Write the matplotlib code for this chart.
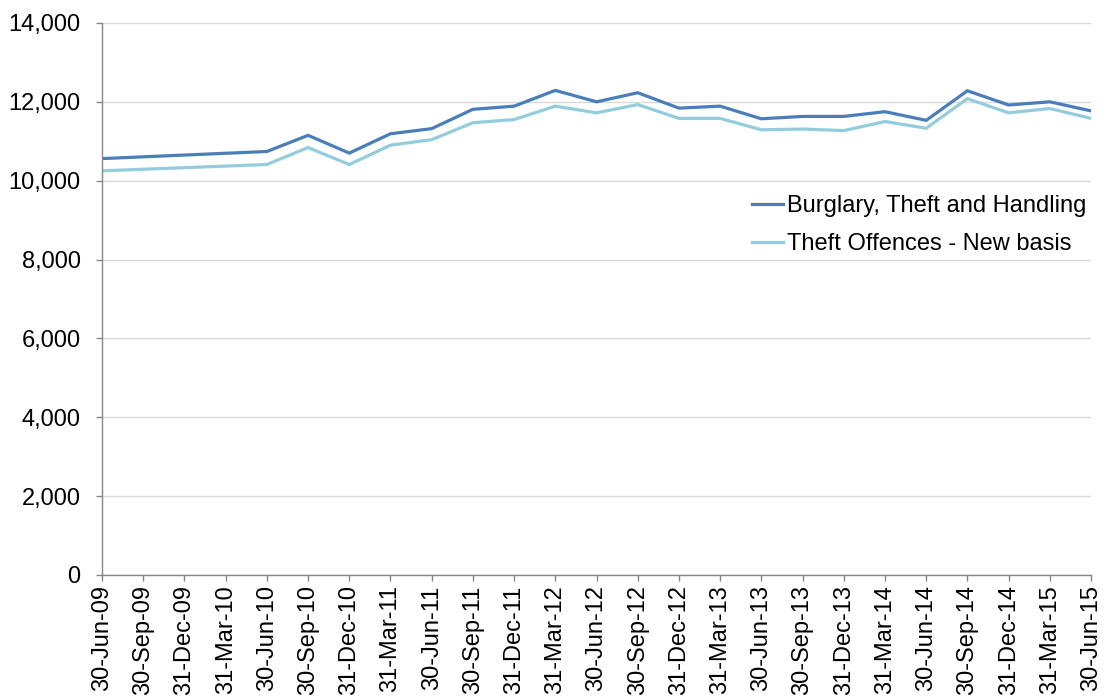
import matplotlib
matplotlib.use("Agg")
import matplotlib.pyplot as plt
from matplotlib.ticker import FuncFormatter, MultipleLocator

plt.rcParams['font.family'] = ['Liberation Sans', 'DejaVu Sans']

# Quarter-end labels on the category axis
quarters = [
    "30-Jun-09", "30-Sep-09", "31-Dec-09", "31-Mar-10", "30-Jun-10",
    "30-Sep-10", "31-Dec-10", "31-Mar-11", "30-Jun-11", "30-Sep-11",
    "31-Dec-11", "31-Mar-12", "30-Jun-12", "30-Sep-12", "31-Dec-12",
    "31-Mar-13", "30-Jun-13", "30-Sep-13", "31-Dec-13", "31-Mar-14",
    "30-Jun-14", "30-Sep-14", "31-Dec-14", "31-Mar-15", "30-Jun-15",
]

# Dates with observations (annual first, then quarterly)
obs_dates = ["30-Jun-09"] + quarters[4:]

burglary_theft_handling = [
    10560, 10740, 11150, 10700, 11190, 11320, 11810, 11890, 12290, 12000,
    12230, 11840, 11890, 11570, 11630, 11630, 11750, 11530, 12280, 11920,
    12000, 11770,
]
theft_new_basis = [
    10250, 10410, 10840, 10410, 10900, 11040, 11470, 11550, 11890, 11720,
    11930, 11580, 11580, 11290, 11310, 11270, 11500, 11330, 12080, 11720,
    11830, 11580,
]

x = [quarters.index(d) for d in obs_dates]

fig = plt.figure(figsize=(11.09, 7.0), dpi=100)
ax = fig.add_axes([0.092, 0.1786, 0.8918, 0.7886])

ax.plot(x, burglary_theft_handling, color="#4A7EBB", lw=2.3,
        label="Burglary, Theft and Handling", solid_joinstyle="miter")
ax.plot(x, theft_new_basis, color="#93CDDD", lw=2.3,
        label="Theft Offences - New basis", solid_joinstyle="miter")

ax.set_xlim(0, len(quarters) - 1)
ax.set_ylim(0, 14000)
ax.yaxis.set_major_locator(MultipleLocator(2000))
ax.yaxis.set_major_formatter(FuncFormatter(lambda v, p: f"{int(v):,}"))
ax.set_xticks(range(len(quarters)))
ax.set_xticklabels(quarters, rotation=90)

ax.grid(axis="y", color="#D9D9D9", lw=1.0)
ax.set_axisbelow(True)
for side in ("top", "right"):
    ax.spines[side].set_visible(False)
for side in ("left", "bottom"):
    ax.spines[side].set_color("#868686")
    ax.spines[side].set_linewidth(1.0)

ax.tick_params(axis="both", colors="#868686", labelcolor="black",
               labelsize=17, direction="out", width=1.0)
ax.tick_params(axis="y", length=4.5, pad=11)
ax.tick_params(axis="x", length=4.5, pad=3)

ax.legend(loc="upper left", bbox_to_anchor=(752 / 1109, 1 - 195 / 700),
          bbox_transform=fig.transFigure, frameon=False, fontsize=17,
          handlelength=1.3, handletextpad=0.2, labelspacing=0.67,
          borderaxespad=0, borderpad=0)

fig.savefig("out.png", dpi=100)
